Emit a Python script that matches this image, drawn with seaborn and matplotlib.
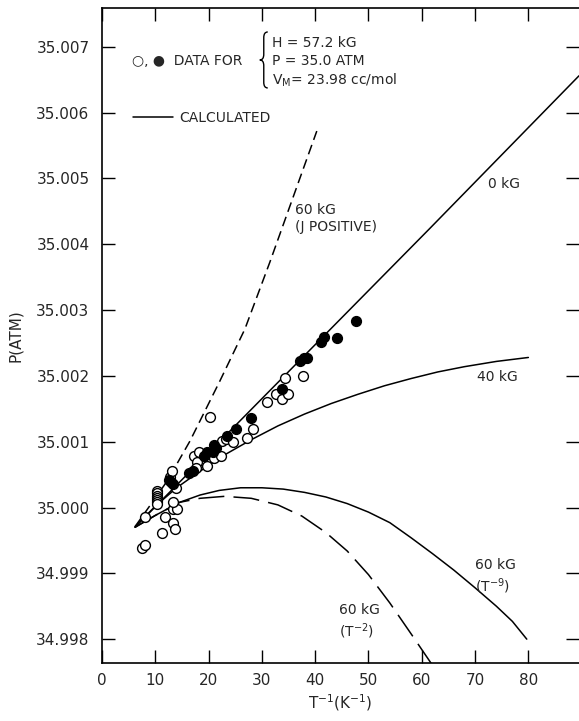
import numpy as np
import pandas as pd
import matplotlib
matplotlib.use("Agg")
import matplotlib.pyplot as plt
import seaborn as sns
from matplotlib.path import Path
from matplotlib.patches import PathPatch
from matplotlib.lines import Line2D

# ---------------- data ----------------
x_ticks = [0, 10, 20, 30, 40, 50, 60, 70, 80]
y_ticks = [34.998, 34.999, 35.000, 35.001, 35.002, 35.003, 35.004, 35.005, 35.006, 35.007]

open_x = [7.5, 8.1, 8.1, 11.3, 11.8, 13.3, 13.7, 13.3, 14.1, 13.3, 13.9,
          10.3, 10.3, 10.3, 10.3, 10.3, 10.3, 10.3,
          12.8, 13.2, 17.3, 18.2, 17.8, 17.6, 19.7, 20.3, 21.0, 22.3, 22.5,
          23.3, 24.6, 27.2, 28.3, 31.0, 32.6, 33.8, 34.9, 34.3, 37.7]
open_p = [34.99938, 34.99943, 34.99986, 34.99962, 34.99985, 34.99977, 34.99968,
          34.99997, 34.99997, 35.00009, 35.00030,
          35.00025, 35.00022, 35.00018, 35.00015, 35.00012, 35.00008, 35.00005,
          35.00047, 35.00055, 35.00079, 35.00084, 35.00069, 35.00060, 35.00063,
          35.00137, 35.00075, 35.00079, 35.00101, 35.00104, 35.00099, 35.00105,
          35.00119, 35.00160, 35.00172, 35.00165, 35.00172, 35.00197, 35.00200]

filled_x = [12.6, 12.9, 13.3, 16.3, 17.1, 19.1, 19.7, 21.0, 20.8, 21.4, 23.5,
            25.1, 28.0, 33.8, 37.1, 37.9, 38.5, 41.1, 41.7, 44.1, 47.7]
filled_p = [35.00042, 35.00039, 35.00035, 35.00053, 35.00055, 35.00078, 35.00084,
            35.00095, 35.00085, 35.00090, 35.00108, 35.00120, 35.00136, 35.00180,
            35.00223, 35.00227, 35.00227, 35.00252, 35.00259, 35.00258, 35.00284]

kg0_x = [6.2, 61.5, 89.5]
kg0_p = [34.99970, 35.00424, 35.00656]

kg40_x = [6.2, 10, 14, 18, 23, 28, 33, 38, 43, 48, 53, 58, 63, 68, 74, 80]
kg40_p = [34.99971, 35.00002, 35.00030, 35.00053, 35.00080, 35.00103, 35.00124,
          35.00142, 35.00158, 35.00172, 35.00185, 35.00196, 35.00206, 35.00214,
          35.00222, 35.00228]

jpos_x = [6.2, 9, 12.2, 16.5, 22.1, 26.8, 31.5, 35.3, 40.3]
jpos_p = [34.99971, 35.00003, 35.00040, 35.00101, 35.00192, 35.00271, 35.00373,
          35.00459, 35.00572]

t9_x = [6.2, 10, 14.6, 18.4, 22, 26, 30, 34, 38, 42, 46, 50, 54, 58, 62, 66,
        70, 74, 77, 79.7]
t9_p = [34.99970, 34.99988, 35.00008, 35.00019, 35.00026, 35.00030, 35.00030,
        35.00028, 35.00023, 35.00016, 35.00006, 34.99993, 34.99977, 34.99954,
        34.99930, 34.99905, 34.99878, 34.99850, 34.99827, 34.99800]

t2_x = [6.2, 10, 14.6, 18.4, 23, 28, 33, 37.5, 42, 46, 50, 54, 58, 62.2]
t2_p = [34.99970, 34.99988, 35.00008, 35.00014, 35.00017, 35.00014, 35.00004,
        34.99987, 34.99962, 34.99934, 34.99898, 34.99855, 34.99808, 34.99758]

# ---------------- figure ----------------
sns.set_style("ticks")
plt.rcParams["font.family"] = ["DejaVu Sans"]
plt.rcParams["mathtext.fontset"] = "dejavusans"

fig = plt.figure(figsize=(5.79, 7.21), dpi=100)
ax = fig.add_axes([0.1762, 0.0804, 0.8238, 0.9085])

lw = 1.1
def curve(xs, ps, dash=None):
    sns.lineplot(x=xs, y=ps, ax=ax, color="black", linewidth=lw,
                 sort=False, estimator=None, zorder=2)
    if dash is not None:
        ax.lines[-1].set_linestyle((0, dash))

curve(kg0_x, kg0_p)
curve(kg40_x, kg40_p)
curve(t9_x, t9_p)
curve(jpos_x, jpos_p, (6.5, 3.5))
curve(t2_x, t2_p, (17, 6))

sns.scatterplot(x=open_x, y=open_p, ax=ax, s=50, color="white",
                edgecolor="black", linewidth=1.0, zorder=3)
sns.scatterplot(x=filled_x, y=filled_p, ax=ax, s=50, color="black",
                edgecolor="black", linewidth=1.0, zorder=4)

ax.set_xlim(0, 89.5)
ax.set_ylim(34.997637, 35.00759)
ax.set_xticks(x_ticks)
ax.set_xticklabels([str(t) for t in x_ticks])
ax.set_yticks(y_ticks)
ax.set_yticklabels([f"{t:.3f}" for t in y_ticks])
ax.tick_params(direction="in", length=9.5, width=1.0, top=True, right=True,
               labelsize=11, color="black")
ax.tick_params(axis="x", pad=7)
ax.tick_params(axis="y", pad=9)
for s in ["left", "bottom", "top"]:
    ax.spines[s].set_linewidth(1.2)
    ax.spines[s].set_color("black")
ax.spines["right"].set_visible(False)

ax.set_xlabel(r"T$^{-1}$(K$^{-1}$)", fontsize=11)
ax.set_ylabel("P(ATM)", fontsize=11)
ax.xaxis.set_label_coords(0.5, -0.045)
ax.yaxis.set_label_coords(-0.165, 0.5)

fs = 10
# data legend
ax.text(5.6, 35.006786, "○, ●  DATA FOR", fontsize=fs, va="center", ha="left")
x0, x1, y0, y1 = 29.6, 31.1, 35.006375, 35.007226
xm, ym = (x0 + x1) / 2, (y0 + y1) / 2
c = 0.1 * (y1 - y0)
verts = [(x1, y1), (xm, y1), (xm, y1 - c), (xm, ym + c), (xm, ym), (x0, ym),
         (xm, ym), (xm, ym - c), (xm, y0 + c), (xm, y0), (x1, y0)]
codes = [Path.MOVETO, Path.CURVE3, Path.CURVE3, Path.LINETO, Path.CURVE3,
         Path.CURVE3, Path.CURVE3, Path.CURVE3, Path.LINETO, Path.CURVE3,
         Path.CURVE3]
ax.add_patch(PathPatch(Path(verts, codes), fill=False, lw=1.0, color="black"))
ax.text(31.9, 35.007059, "H = 57.2 kG", fontsize=fs, va="center", ha="left")
ax.text(31.9, 35.006786, "P = 35.0 ATM", fontsize=fs, va="center", ha="left")
ax.text(31.9, 35.006497, r"V$_{\rm M}$= 23.98 cc/mol", fontsize=fs, va="center", ha="left")

leg = ax.legend(handles=[Line2D([], [], color="black", lw=lw)], labels=["CALCULATED"],
                loc="center left", bbox_to_anchor=(0.065, 0.832), frameon=False,
                handlelength=2.9, handletextpad=0.45, borderpad=0, borderaxespad=0,
                fontsize=fs)

# curve labels
ax.text(36.2, 35.00462, "60 kG\n(J POSITIVE)", fontsize=fs, va="top", ha="left",
        linespacing=1.25)
ax.text(72.4, 35.004916, "0 kG", fontsize=fs, va="center", ha="left")
ax.text(70.4, 35.001976, "40 kG", fontsize=fs, va="center", ha="left")
ax.text(70.0, 34.99924, "60 kG\n(T$^{-9}$)", fontsize=fs, va="top", ha="left",
        linespacing=1.3)
ax.text(44.5, 34.99855, "60 kG\n(T$^{-2}$)", fontsize=fs, va="top", ha="left",
        linespacing=1.3)

fig.savefig("out.png", dpi=100)
